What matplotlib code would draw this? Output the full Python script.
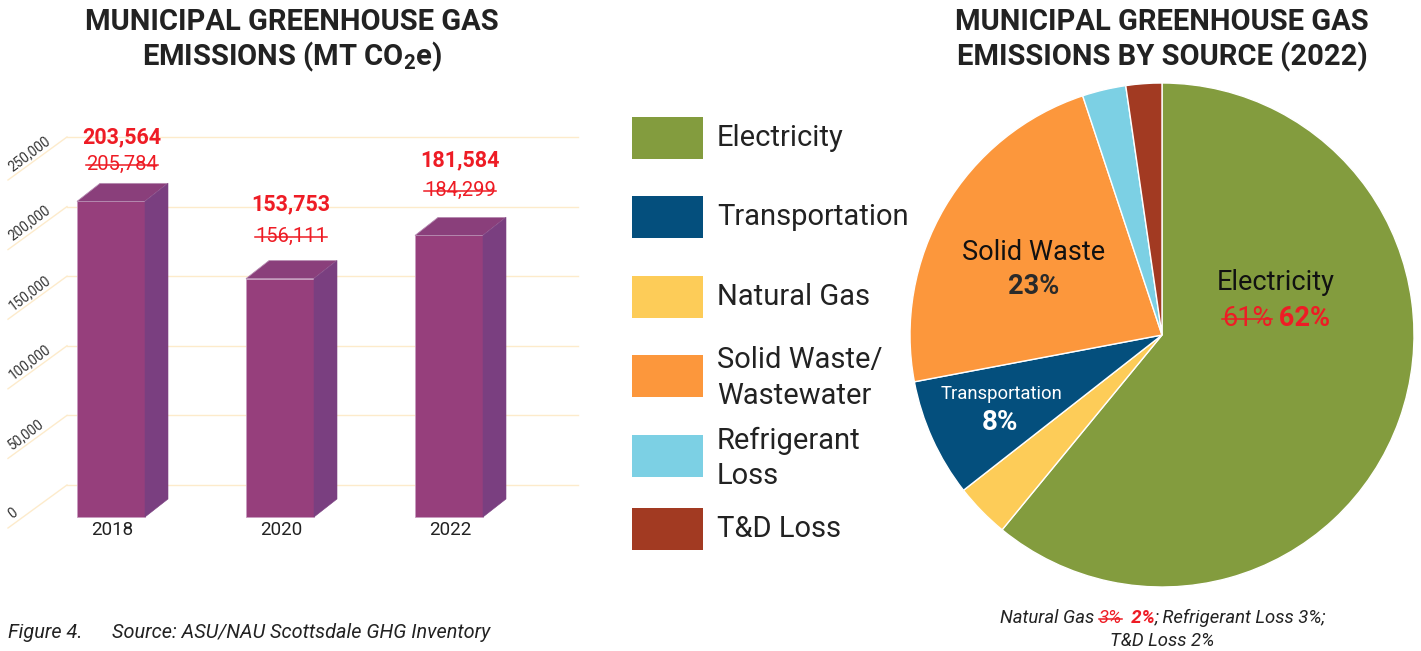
import numpy as np
import matplotlib
matplotlib.use('Agg')
import matplotlib.pyplot as plt
from matplotlib.patches import Polygon, Rectangle
from matplotlib.lines import Line2D

# ---------------------------------------------------
# dados
# ---------------------------------------------------
anos = ['2018', '2020', '2022']
emissoes = [203564, 153753, 181584]          # valor atual (vermelho, negrito)
emissoes_antigas = [205784, 156111, 184299]  # valor anterior (riscado)
ticks_y = [0, 50000, 100000, 150000, 200000, 250000]

fontes = ['Electricity', 'Transportation', 'Natural Gas',
          'Solid Waste/\nWastewater', 'Refrigerant\nLoss', 'T&D Loss']
cores_fontes = ['#839C3E', '#044F7D', '#FDCC58', '#FC973C', '#7CD0E4', '#A23A22']
# ordem da pizza (sentido horário a partir do topo)
pizza_fontes = ['Electricity', 'Natural Gas', 'Transportation',
                'Solid Waste/\nWastewater', 'Refrigerant\nLoss', 'T&D Loss']
pizza_pct = [61.0, 3.5, 7.6, 22.9, 2.8, 2.3]

# ---------------------------------------------------
# estilo
# ---------------------------------------------------
plt.rcParams['font.family'] = ['Roboto', 'DejaVu Sans']
plt.rcParams['mathtext.fontset'] = 'custom'
plt.rcParams['mathtext.bf'] = 'Roboto:bold'
plt.rcParams['mathtext.rm'] = 'Roboto:bold'
VERMELHO = '#EE1C25'
TEXTO = '#222222'
GRADE = '#FDEBCB'

fig = plt.figure(figsize=(14.21, 6.51), dpi=100)
W, H = 1421, 651

def fx(px):
    return px / W

def fy(py):
    return 1 - py / H

riscar = []  # textos que levam risco

def linha_mista(pecas, x, y, ha='center', tamanho=13.3):
    """Escreve pedaços com estilos diferentes lado a lado (coords em pixels)."""
    textos = []
    for txt, cor, peso, estilo, risca in pecas:
        t = fig.text(0, fy(y), txt, ha='left', va='center', fontsize=tamanho,
                     style=estilo, color=cor, fontweight=peso)
        textos.append(t)
        if risca:
            riscar.append(t)
    fig.canvas.draw()
    rend = fig.canvas.get_renderer()
    larguras = [t.get_window_extent(rend).width for t in textos]
    x_ini = x - sum(larguras) / 2 if ha == 'center' else x
    for t, lw in zip(textos, larguras):
        t.set_x(fx(x_ini))
        x_ini += lw

# ---------------------------------------------------
# gráfico de barras "3D"
# ---------------------------------------------------
ax = fig.add_axes([0, fy(540), fx(580), (540 - 90) / H])
UY = 645.0           # unidades por pixel (vertical)
UX = 1 / 169.0       # unidades por pixel (horizontal)
x0_px, y0_px = 111, 517
ax.set_xlim(-x0_px * UX, (580 - x0_px) * UX)
ax.set_ylim((y0_px - 540) * UY, (y0_px - 90) * UY)
ax.axis('off')

largura = 68 * UX
dx, dy = 23 * UX, 18 * UY

# grade no plano de fundo (com a "perspectiva" à esquerda)
for t in ticks_y:
    yb = 32 * UY + t * (69.6 / 50000) * UY
    ax.plot([(67 - x0_px) * UX, (578 - x0_px) * UX], [yb, yb], color=GRADE, lw=1, zorder=1)
    ax.plot([(8 - x0_px) * UX, (67 - x0_px) * UX], [yb - 43 * UY, yb], color=GRADE, lw=1, zorder=1)
    ax.text((10 - x0_px) * UX, yb - 31 * UY, f'{t:,}', rotation=37, rotation_mode='anchor',
            ha='left', va='center', fontsize=9.8, color='#333333')

xs = np.arange(len(anos))
ax.bar(xs, emissoes, width=largura, color='#963F7C', edgecolor='#C89CC0', lw=0.6, zorder=3)
for x, v in zip(xs, emissoes):
    xl, xr = x - largura / 2, x + largura / 2
    topo = Polygon([[xl, v], [xr, v], [xr + dx, v + dy], [xl + dx, v + dy]],
                   closed=True, facecolor='#8A3F7B', edgecolor='#B58AB0', lw=0.6, zorder=3)
    lado = Polygon([[xr, 0], [xr + dx, dy], [xr + dx, v + dy], [xr, v]],
                   closed=True, facecolor='#7A3F80', edgecolor='#7A3F80', lw=0.4, zorder=3)
    ax.add_patch(topo)
    ax.add_patch(lado)

# rótulos dos valores (distâncias em pixels acima do topo da barra)
deslocs = [(64, 37), (74, 42), (75, 45)]
for x, v, va, (d1, d2) in zip(xs, emissoes, emissoes_antigas, deslocs):
    ax.text(x + 11 * UX, v + d1 * UY, f'{v:,}', ha='center', va='center',
            fontsize=15.5, fontweight='bold', color=VERMELHO, zorder=5)
    t = ax.text(x + 11 * UX, v + d2 * UY, f'{va:,}', ha='center', va='center',
                fontsize=14.5, color=VERMELHO, zorder=5)
    riscar.append(t)

for x, a in zip(xs, anos):
    ax.text(x + 1 * UX, -13 * UY, a, ha='center', va='center', fontsize=13.5, color=TEXTO)

fig.text(fx(292), fy(22), 'MUNICIPAL GREENHOUSE GAS', ha='center', va='center',
         fontsize=21, fontweight='bold', color=TEXTO)
fig.text(fx(292), fy(57), r'EMISSIONS (MT CO$_{\mathbf{2}}$e)', ha='center', va='center',
         fontsize=21, fontweight='bold', color=TEXTO)

fig.text(fx(8), fy(633), 'Figure 4.', ha='left', va='center', fontsize=14.3,
         style='italic', color=TEXTO)
fig.text(fx(112), fy(633), 'Source: ASU/NAU Scottsdale GHG Inventory',
         ha='left', va='center', fontsize=14.3, style='italic', color=TEXTO)

# ---------------------------------------------------
# legenda
# ---------------------------------------------------
leg_y = [138, 217, 297, 378, 458, 529]
for nome, cor, yc in zip(fontes, cores_fontes, leg_y):
    yq = yc if '\n' not in nome else yc - 2
    fig.patches.append(Rectangle((fx(632), fy(yq + 21)), fx(71), 42 / H,
                                 transform=fig.transFigure, facecolor=cor, edgecolor='none'))
    fig.text(fx(717), fy(yc), nome, ha='left', va='center', fontsize=21,
             color=TEXTO, linespacing=1.32)

# ---------------------------------------------------
# pizza
# ---------------------------------------------------
cx, cy, r = 1162, 335, 252
axp = fig.add_axes([fx(cx - r), fy(cy + r), fx(2 * r), 2 * r / H])
cor_de = dict(zip(fontes, cores_fontes))
axp.pie(pizza_pct, colors=[cor_de[n] for n in pizza_fontes], startangle=90,
        counterclock=False, wedgeprops=dict(edgecolor='white', linewidth=1))
axp.set_xlim(-1, 1)
axp.set_ylim(-1, 1)
axp.set_aspect('auto')

def px2p(px, py):
    return (px - cx) / r, (cy - py) / r

axp.text(*px2p(1276, 283), 'Electricity', ha='center', va='center', fontsize=19.5, color='#111111')
axp.text(*px2p(1034, 253), 'Solid Waste', ha='center', va='center', fontsize=19.5, color='#111111')
axp.text(*px2p(1034, 287), '23%', ha='center', va='center', fontsize=19.5,
         fontweight='bold', color='#2A2A2A')
axp.text(*px2p(1001, 394), 'Transportation', ha='center', va='center', fontsize=13.3, color='white')
axp.text(*px2p(1000, 422), '8%', ha='center', va='center', fontsize=20,
         fontweight='bold', color='white')

linha_mista([('61%', VERMELHO, 'normal', 'normal', True),
             (' 62%', VERMELHO, 'bold', 'normal', False)], 1276, 318, tamanho=19.5)

fig.text(fx(1162), fy(22), 'MUNICIPAL GREENHOUSE GAS', ha='center', va='center',
         fontsize=21, fontweight='bold', color=TEXTO)
fig.text(fx(1162), fy(57), 'EMISSIONS BY SOURCE (2022)', ha='center', va='center',
         fontsize=21, fontweight='bold', color=TEXTO)

# nota de rodapé com estilos mistos
linha_mista([('Natural Gas ', TEXTO, 'normal', 'italic', False),
             ('3%', VERMELHO, 'normal', 'italic', True),
             ('  2%', VERMELHO, 'bold', 'italic', False),
             ('; Refrigerant Loss 3%;', TEXTO, 'normal', 'italic', False)], 1163, 618)
fig.text(fx(1162), fy(641), 'T&D Loss 2%', ha='center', va='center', fontsize=13.3,
         style='italic', color=TEXTO)

# riscos (tachado)
fig.canvas.draw()
rend = fig.canvas.get_renderer()
for t in riscar:
    bb = t.get_window_extent(rend)
    ymid = bb.y0 + bb.height * 0.47
    fig.add_artist(Line2D([bb.x0 / W, bb.x1 / W], [ymid / H, ymid / H],
                          transform=fig.transFigure, color=t.get_color(), lw=1.1))

fig.savefig('out.png', dpi=100)
